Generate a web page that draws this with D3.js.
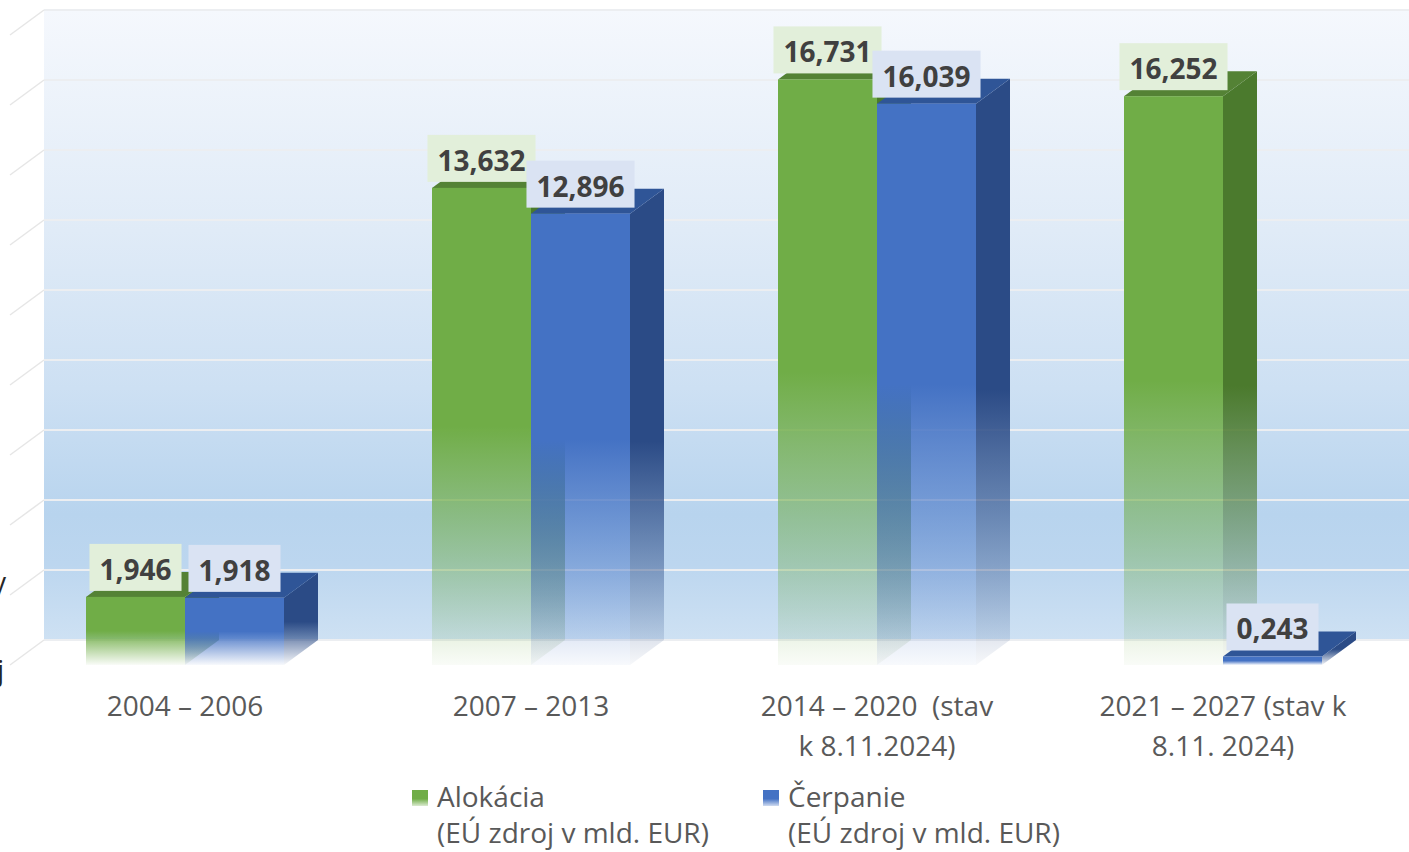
<!DOCTYPE html>
<html>
<head>
<meta charset="utf-8">
<script src="https://cdn.jsdelivr.net/npm/d3@7"></script>
<style>
  body { margin: 0; background: #fff; }
  text { font-family: "Open Sans", "Noto Sans", sans-serif; }
</style>
</head>
<body>
<div id="chart"></div>
<script>
// data
var categories = ["2004-2006", "2007-2013", "2014-2020", "2021-2027"];
var catLabels = [
  ["2004 – 2006"],
  ["2007 – 2013"],
  ["2014 – 2020  (stav", "k 8.11.2024)"],
  ["2021 – 2027 (stav k", "8.11. 2024)"]
];
var alokacia = [1.946, 13.632, 16.731, 16.252];
var cerpanie = [1.918, 12.896, 16.039, 0.243];
var seriesNames = ["Alokácia", "Čerpanie"];
var seriesSub = "(EÚ zdroj v mld. EUR)";
var yTicks = [0, 2, 4, 6, 8, 10, 12, 14, 16, 18];

var width = 1409, height = 852;
var dx = 34, dy = 25;          // 3d depth offset
var wallLeft = 44;

var colors = {
  "Alokácia": { front: "#70ad47", top: "#548235", side: "#4b7a2d", box: "#e2efda" },
  "Čerpanie": { front: "#4472c4", top: "#2f5597", side: "#2b4b86", box: "#dae3f3" }
};

var svg = d3.select("#chart").append("svg")
  .attr("width", width)
  .attr("height", height);

var defs = svg.append("defs");

var wallGrad = defs.append("linearGradient").attr("id", "wall")
  .attr("x1", 0).attr("y1", 0).attr("x2", 0).attr("y2", 1);
[[0, "#f5f8fd"], [0.35, "#e0ebf7"], [0.6, "#cde0f3"], [0.8, "#b8d4ee"], [0.88, "#bcd6ef"], [1, "#cee1f3"]]
  .forEach(function(s) {
    wallGrad.append("stop").attr("offset", s[0]).attr("stop-color", s[1]);
  });

seriesNames.forEach(function(name, i) {
  ["front", "side"].forEach(function(face) {
    var g = defs.append("linearGradient").attr("id", "g" + i + face)
      .attr("x1", 0).attr("y1", 0).attr("x2", 0).attr("y2", 1);
    g.append("stop").attr("offset", 0).attr("stop-color", colors[name][face]).attr("stop-opacity", 1);
    g.append("stop").attr("offset", face == "side" ? 0.53 : 0.5).attr("stop-color", colors[name][face]).attr("stop-opacity", 1);
    g.append("stop").attr("offset", 1).attr("stop-color", colors[name][face]).attr("stop-opacity", 0.04);
  });
  var lg = defs.append("linearGradient").attr("id", "leg" + i)
    .attr("x1", 0).attr("y1", 0).attr("x2", 0).attr("y2", 1);
  lg.append("stop").attr("offset", 0).attr("stop-color", colors[name].front);
  lg.append("stop").attr("offset", 0.55).attr("stop-color", colors[name].front);
  lg.append("stop").attr("offset", 1).attr("stop-color", colors[name].front).attr("stop-opacity", 0.25);
});

// scales (front face)
var y = d3.scaleLinear().domain([0, 18]).range([665, 35]);
var x = d3.scaleBand().domain(categories).range([12, 1396]);
var xs = d3.scaleBand().domain(seriesNames).range([0, 198]);

// back wall
svg.append("rect")
  .attr("x", wallLeft).attr("y", y(18) - dy)
  .attr("width", width - wallLeft).attr("height", y(0) - y(18))
  .attr("fill", "url(#wall)");

// gridlines: on back wall + diagonal on side wall
var grid = svg.append("g");
grid.selectAll("line.h").data(yTicks).enter().append("line")
  .attr("class", "h")
  .attr("x1", wallLeft).attr("x2", width)
  .attr("y1", function(d) { return y(d) - dy; })
  .attr("y2", function(d) { return y(d) - dy; })
  .attr("stroke", "#eceef1").attr("stroke-width", 2);
grid.selectAll("line.d").data(yTicks).enter().append("line")
  .attr("class", "d")
  .attr("x1", wallLeft).attr("x2", wallLeft - dx)
  .attr("y1", function(d) { return y(d) - dy; })
  .attr("y2", function(d) { return y(d); })
  .attr("stroke", "#e6e6e6").attr("stroke-width", 1.5);

// bars
var fmt = function(v) { return d3.format(".3f")(v).replace(".", ","); };
var rows = categories.map(function(c, i) {
  return [
    { cat: c, s: 0, name: seriesNames[0], v: alokacia[i] },
    { cat: c, s: 1, name: seriesNames[1], v: cerpanie[i] }
  ];
});

var bars = svg.append("g");
var barW = xs.bandwidth();
var catOffset = x.bandwidth() / 2 - 99;

rows.forEach(function(pair) {
  pair.forEach(function(d) {
    var x0 = x(d.cat) + catOffset + xs(d.name);
    var x1 = x0 + barW;
    var yt = y(d.v), yb = y(0);
    var g = bars.append("g");
    g.append("path")
      .attr("d", "M" + x1 + "," + yt + "L" + (x1 + dx) + "," + (yt - dy) +
        "L" + (x1 + dx) + "," + (yb - dy) + "L" + x1 + "," + yb + "Z")
      .attr("fill", "url(#g" + d.s + "side)");
    g.append("path")
      .attr("d", "M" + x0 + "," + yt + "L" + x1 + "," + yt +
        "L" + (x1 + dx) + "," + (yt - dy) + "L" + (x0 + dx) + "," + (yt - dy) + "Z")
      .attr("fill", colors[d.name].top);
    g.append("rect")
      .attr("x", x0).attr("y", yt)
      .attr("width", barW).attr("height", yb - yt)
      .attr("fill", "url(#g" + d.s + "front)");
  });
});

// value labels
var labels = svg.append("g");
rows.forEach(function(pair) {
  pair.forEach(function(d) {
    var cx = x(d.cat) + catOffset + xs(d.name) + barW / 2;
    var boxBottom = y(d.v) - 6;
    var lg = labels.append("g");
    var rect = lg.append("rect").attr("fill", colors[d.name].box);
    var t = lg.append("text")
      .attr("x", cx).attr("y", boxBottom - 11)
      .attr("text-anchor", "middle")
      .attr("font-size", 28).attr("font-weight", "bold")
      .attr("fill", "#404040")
      .text(fmt(d.v));
    var w = t.node().getComputedTextLength() + 20;
    rect.attr("x", cx - w / 2).attr("y", boxBottom - 47)
      .attr("width", w).attr("height", 47);
  });
});

// category labels
var xl = svg.append("g");
categories.forEach(function(c, i) {
  var t = xl.append("text")
    .attr("text-anchor", "middle")
    .attr("font-size", 28)
    .attr("fill", "#595959")
    .style("white-space", "pre");
  catLabels[i].forEach(function(line, j) {
    t.append("tspan")
      .attr("x", x(c) + x.bandwidth() / 2)
      .attr("y", 716 + j * 40)
      .text(line);
  });
});

// legend
var legX = [412, 763];
var legend = svg.append("g");
seriesNames.forEach(function(name, i) {
  legend.append("rect")
    .attr("x", legX[i]).attr("y", 790)
    .attr("width", 16).attr("height", 16)
    .attr("fill", "url(#leg" + i + ")");
  var t = legend.append("text")
    .attr("font-size", 28).attr("fill", "#595959");
  t.append("tspan").attr("x", legX[i] + 25).attr("y", 807).text(name);
  t.append("tspan").attr("x", legX[i] + 25).attr("y", 843).text(seriesSub);
});

// cut-off axis title fragments at the left edge
svg.append("text").attr("x", 6).attr("y", 592).attr("text-anchor", "end")
  .attr("font-size", 27).attr("fill", "#262626").text("y");
svg.append("text").attr("x", 4).attr("y", 680).attr("text-anchor", "end")
  .attr("font-size", 27).attr("fill", "#262626").text("j");
</script>
</body>
</html>
